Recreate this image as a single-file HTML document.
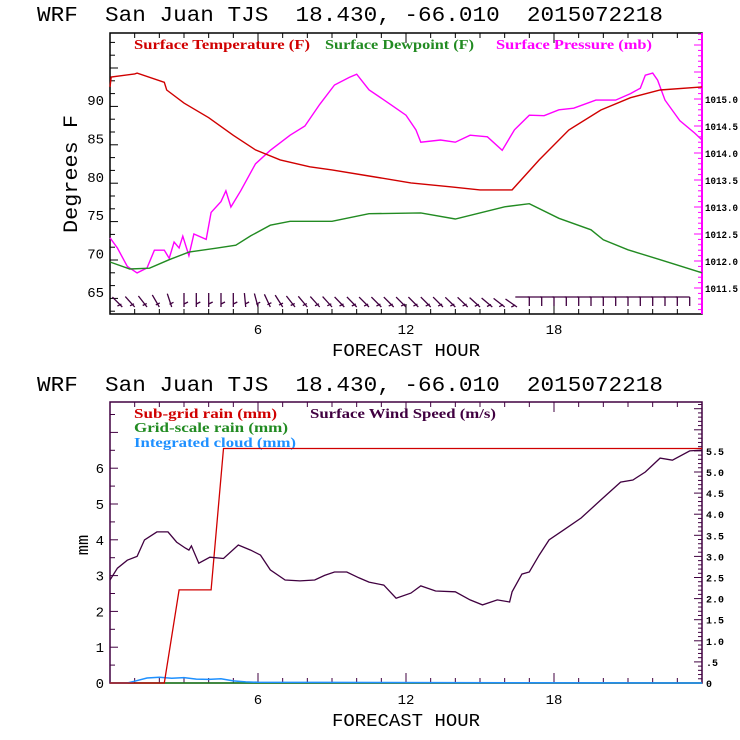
<!DOCTYPE html>
<html><head><meta charset="utf-8"><style>
html,body{margin:0;padding:0;background:#fff;}
svg{display:block;}
text{font-family:"Liberation Mono",monospace;white-space:pre;}
.lg{font-family:"Liberation Serif",serif;font-weight:bold;font-size:14px;}
.tk{font-family:"Liberation Mono",monospace;font-size:14px;}
.rt{font-family:"Liberation Mono",monospace;font-size:10px;font-weight:bold;}
</style></head><body>
<svg id="chart" width="740" height="740" viewBox="0 0 740 740" xmlns="http://www.w3.org/2000/svg">
<rect width="740" height="740" fill="#fff"/>
<g id="top"></g>
<g id="bot"></g>
</svg>
<script>
// ---- top panel data ----
const tempHours=[0,0.05,1,1.1,2.2,2.3,3,4,5,5.9,6.9,8.1,9,10.5,12.2,13.8,15,16.3,17.4,18.6,19.9,21.1,22.3,24];
const tempVals=[91.7,93,93.4,93.5,92.3,91.3,89.6,87.7,85.4,83.5,82.2,81.3,80.9,80.1,79.2,78.7,78.3,78.3,82.2,86.1,88.7,90.3,91.3,91.7];
const dewHours=[0,0.8,1.6,2.4,3.2,4.3,5.1,5.7,6.5,7.3,9,10.5,12.6,14,16,17,18.2,19.5,20,21,22.3,23,24];
const dewVals=[68.9,68.0,68.1,69.2,70.2,70.7,71.1,72.3,73.7,74.2,74.2,75.2,75.3,74.5,76.1,76.5,74.6,73.1,71.8,70.5,69.2,68.5,67.5];
const presHours=[0,0.3,0.7,1.1,1.5,1.8,2.2,2.4,2.6,2.8,2.95,3.2,3.4,3.9,4.1,4.5,4.7,4.9,5.3,5.9,6.5,7.3,7.9,8.5,9.1,9.7,10,10.5,11.4,12,12.4,12.6,13.4,14,14.6,15.3,15.9,16.4,17,17.6,18.2,18.8,19.7,20.5,21.1,21.5,21.7,22,22.2,22.5,23.1,23.7,24];
const presVals=[1012.43,1012.24,1011.9,1011.78,1011.87,1012.2,1012.2,1012.05,1012.35,1012.24,1012.46,1012.1,1012.5,1012.4,1012.9,1013.1,1013.3,1013.0,1013.3,1013.8,1014.05,1014.33,1014.5,1014.9,1015.26,1015.4,1015.46,1015.17,1014.89,1014.7,1014.43,1014.2,1014.24,1014.2,1014.33,1014.3,1014.05,1014.43,1014.7,1014.69,1014.8,1014.83,1014.98,1014.98,1015.1,1015.2,1015.44,1015.48,1015.35,1014.98,1014.6,1014.37,1014.24];
const barbAngles=[45,42,38,30,18,0,0,0,0,0,5,15,25,32,38,40,42,42,44,44,45,45,45,45,45,45,45,46,46,48,50,52,55,60,65,70,78,85,90,90,90,90,90,90,90,90,90];
const leftTicks=[65,70,75,80,85,90];
const presTicks=["1011.5","1012.0","1012.5","1013.0","1013.5","1014.0","1014.5","1015.0"];
const hourTicks=[6,12,18];
// ---- bottom panel data ----
const rainHours=[0,2.2,2.8,4.1,4.6,24];
const rainVals=[0,0,2.6,2.6,6.55,6.55];
const cloudHours=[0,0.7,1,1.5,2,2.5,3,3.5,4,4.5,5,5.5,6,24];
const cloudVals=[0,0,0.05,0.14,0.16,0.13,0.15,0.11,0.1,0.12,0.06,0.03,0.02,0];
const windHours=[0,0.3,0.7,1.1,1.4,1.9,2.35,2.7,3.05,3.2,3.3,3.6,4.05,4.6,5.2,5.7,6.1,6.5,7.1,7.7,8.3,8.7,9.1,9.6,10.1,10.5,11.1,11.6,12.2,12.6,13.2,14,14.6,15.1,15.7,16.2,16.3,16.7,17,17.4,17.8,18.4,19.1,19.9,20.7,21.2,21.7,22.3,22.8,23.5,24];
const windVals=[2.44,2.72,2.91,3.0,3.39,3.58,3.58,3.34,3.2,3.15,3.25,2.84,2.98,2.95,3.27,3.15,3.03,2.68,2.44,2.42,2.44,2.55,2.63,2.63,2.49,2.39,2.32,2.01,2.13,2.30,2.18,2.16,1.97,1.85,1.97,1.92,2.16,2.58,2.63,3.03,3.39,3.63,3.91,4.34,4.76,4.81,5.0,5.33,5.28,5.5,5.52];
const mmTicks=[0,1,2,3,4,5,6];
const windTicks=["0",".5","1.0","1.5","2.0","2.5","3.0","3.5","4.0","4.5","5.0","5.5"];

const NS="http://www.w3.org/2000/svg";
function mk(parent,tag,attrs){const e=document.createElementNS(NS,tag);for(const k in attrs)e.setAttribute(k,attrs[k]);parent.appendChild(e);return e;}
const X0=110,X1=702;
const xh=h=>X0+(X1-X0)*h/24;
const TY0=33,TY1=314;
const yT=v=>100+(90-v)*7.68;
const yP=p=>99+(1015-p)*54;
const BY0=402,BY1=683;
const yM=v=>683-v*35.8;
const yW=w=>683-w*42.2;
function pathOf(hs,vs,fy){return hs.map((h,i)=>(i?'L':'M')+xh(h).toFixed(1)+','+fy(vs[i]).toFixed(1)).join('');}

const gTop=document.getElementById('top');
const gBot=document.getElementById('bot');

function title(g,y){
  const t=mk(g,'text',{x:37,y:y,'font-size':'21',fill:'#000',textLength:'626',lengthAdjust:'spacingAndGlyphs'});
  t.setAttributeNS('http://www.w3.org/XML/1998/namespace','xml:space','preserve');
  t.textContent='WRF  San Juan TJS  18.430, -66.010  2015072218';
  
  
}
title(gTop,21);
title(gBot,391);

let fr=mk(gTop,'rect',{x:X0,y:TY0,width:X1-X0,height:TY1-TY0,fill:'none',stroke:'#000','stroke-width':1.5});


mk(gTop,'line',{x1:X1,y1:TY0,x2:X1,y2:TY1,stroke:'#ff00ff','stroke-width':2});
for(let h=1;h<24;h++){
  const L=h%6==0?10:5;
  mk(gTop,'line',{x1:xh(h),y1:TY1,x2:xh(h),y2:TY1-L,stroke:'#000'});
  mk(gTop,'line',{x1:xh(h),y1:TY0,x2:xh(h),y2:TY0+L,stroke:'#000'});
}
for(let k=0;k<22;k++){
  const v=62.5+k*5/3; if(yT(v)<TY0) break;
  const major=(k-1)%3==0;
  mk(gTop,'line',{x1:X0,y1:yT(v),x2:X0+(major?8:5),y2:yT(v),stroke:'#000'});
}
leftTicks.forEach(v=>{
  const t=mk(gTop,'text',{x:104,y:yT(v)+5,'text-anchor':'end',class:'tk',fill:'#000'});t.textContent=v;
  
  
});
for(let k=0;k<60;k++){
  const p=1011.0+k*0.1;
  const y=yP(p);if(y<TY0||y>TY1)continue;
  const major=k%5==0;
  mk(gTop,'line',{x1:X1,y1:y,x2:X1-(major?8:4),y2:y,stroke:'#ff00ff'});
}
presTicks.forEach(s=>{
  const t=mk(gTop,'text',{x:705,y:yP(parseFloat(s))+4,class:'rt',fill:'#000',textLength:'33',lengthAdjust:'spacingAndGlyphs'});t.textContent=s;
  
  
});
hourTicks.forEach(h=>{
  const t=mk(gTop,'text',{x:xh(h),y:334,'text-anchor':'middle',class:'tk',fill:'#000'});t.textContent=h;
  
  
});
let xl=mk(gTop,'text',{x:406,y:356,'text-anchor':'middle','font-size':'18',fill:'#000',textLength:'148',lengthAdjust:'spacingAndGlyphs'});xl.textContent='FORECAST HOUR';


let yl=mk(gTop,'text',{x:0,y:0,'text-anchor':'middle','font-size':'20',fill:'#000',transform:'translate(77,174) rotate(-90)',textLength:'118',lengthAdjust:'spacingAndGlyphs'});yl.textContent='Degrees F';



function leg(g,x,y,col,txt,len,name){
  const t=mk(g,'text',{x:x,y:y,class:'lg',fill:col,textLength:len,lengthAdjust:'spacingAndGlyphs'});t.textContent=txt;
  
  
}
leg(gTop,134,49,'#d00000','Surface Temperature (F)',176,'legend-temperature');
leg(gTop,325,49,'#228b22','Surface Dewpoint (F)',149,'legend-dewpoint');
leg(gTop,496,49,'#ff00ff','Surface Pressure (mb)',156,'legend-pressure');

let s1=mk(gTop,'path',{d:pathOf(presHours,presVals,yP),fill:'none',stroke:'#ff00ff','stroke-width':1.4});


let s2=mk(gTop,'path',{d:pathOf(dewHours,dewVals,yT),fill:'none',stroke:'#228b22','stroke-width':1.4});


let s3=mk(gTop,'path',{d:pathOf(tempHours,tempVals,yT),fill:'none',stroke:'#d00000','stroke-width':1.4});



barbAngles.forEach((a,i)=>{
  const h=0.5+i*0.5, x=xh(h);
  const r=a*Math.PI/180, L=14;
  const bx=x, by=307;
  let tx=bx-Math.sin(r)*L, ty=by-Math.cos(r)*L;
  let d;
  if(a>=60){
    d='M'+bx.toFixed(1)+',297L'+(bx-L).toFixed(1)+',297M'+bx.toFixed(1)+',297L'+bx.toFixed(1)+',306';
  } else {
    d='M'+bx.toFixed(1)+','+by+'L'+tx.toFixed(1)+','+ty.toFixed(1)+'M'+((bx+tx)/2).toFixed(1)+','+((by+ty)/2+4).toFixed(1)+'l4,-2';
  }
  const g=mk(gTop,'path',{d:d,fill:'none',stroke:'#400040','stroke-width':1.3});
  
  
});

let fr2=mk(gBot,'rect',{x:X0,y:BY0,width:X1-X0,height:BY1-BY0,fill:'none',stroke:'#400040','stroke-width':1.5});


for(let h=1;h<24;h++){
  const L=h%6==0?10:5;
  mk(gBot,'line',{x1:xh(h),y1:BY1,x2:xh(h),y2:BY1-L,stroke:'#400040'});
  mk(gBot,'line',{x1:xh(h),y1:BY0,x2:xh(h),y2:BY0+L,stroke:'#400040'});
}
for(let k=1;k<=15;k++){
  const v=k*0.5;
  mk(gBot,'line',{x1:X0,y1:yM(v),x2:X0+(k%2==0?8:5),y2:yM(v),stroke:'#400040'});
}
for(let k=1;k<=66;k++){
  const w=k*0.1;
  const y=yW(w);if(y<BY0)continue;
  const major=k%5==0;
  mk(gBot,'line',{x1:X1,y1:y,x2:X1-(major?8:4),y2:y,stroke:'#400040'});
}
mmTicks.forEach(v=>{
  const t=mk(gBot,'text',{x:104,y:yM(v)+5,'text-anchor':'end',class:'tk',fill:'#000'});t.textContent=v;
  
  
});
windTicks.forEach((s,i)=>{
  const t=mk(gBot,'text',{x:706,y:yW(i*0.5)+4,class:'rt',fill:'#000'});t.textContent=s;
  
  
});
hourTicks.forEach(h=>{
  const t=mk(gBot,'text',{x:xh(h),y:704,'text-anchor':'middle',class:'tk',fill:'#000'});t.textContent=h;
  
  
});
let xl2=mk(gBot,'text',{x:406,y:726,'text-anchor':'middle','font-size':'18',fill:'#000',textLength:'148',lengthAdjust:'spacingAndGlyphs'});xl2.textContent='FORECAST HOUR';


let yl2=mk(gBot,'text',{x:0,y:0,'text-anchor':'middle','font-size':'17',fill:'#000',transform:'translate(88,545) rotate(-90)'});yl2.textContent='mm';



leg(gBot,134,418,'#d00000','Sub-grid rain (mm)',143,'legend-subgrid-rain');
leg(gBot,310,418,'#400040','Surface Wind Speed (m/s)',186,'legend-wind-speed');
leg(gBot,134,432,'#228b22','Grid-scale rain (mm)',154,'legend-gridscale-rain');
leg(gBot,134,447,'#1e90ff','Integrated cloud (mm)',162,'legend-cloud');

let g1=mk(gBot,'line',{x1:X0,y1:yM(0),x2:X1,y2:yM(0),stroke:'#228b22','stroke-width':1.4});


let c1=mk(gBot,'path',{d:pathOf(cloudHours,cloudVals,yM),fill:'none',stroke:'#1e90ff','stroke-width':1.5});


let r1=mk(gBot,'path',{d:pathOf(rainHours,rainVals,yM),fill:'none',stroke:'#d00000','stroke-width':1.3});


let w1=mk(gBot,'path',{d:pathOf(windHours,windVals,yW),fill:'none',stroke:'#400040','stroke-width':1.3});


</script>
</body></html>
